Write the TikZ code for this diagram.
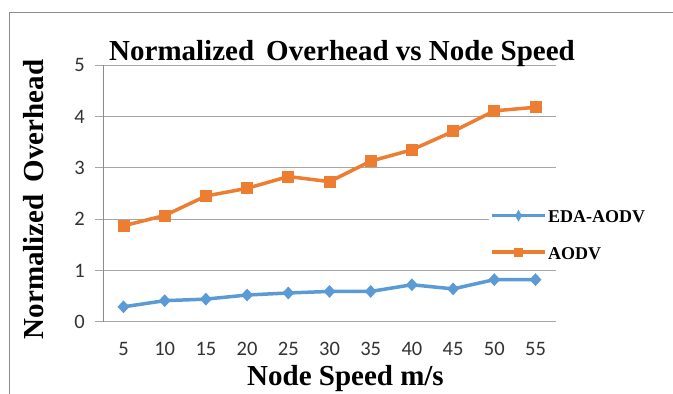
\documentclass[tikz,border=0pt]{standalone}
\usepackage{fontspec}
\setmainfont{Liberation Serif}
\newfontfamily\calibri{Carlito}
\usetikzlibrary{shapes.geometric}
\definecolor{aodvc}{HTML}{ED7D31}
\definecolor{edac}{HTML}{5B9BD5}
\definecolor{gridc}{HTML}{A6A6A6}
\definecolor{axisc}{HTML}{8C8C8C}
\begin{document}
\begin{tikzpicture}[x=1pt,y=-1pt,
  gridline/.style={draw=gridc, line width=1pt},
  axisline/.style={draw=axisc, line width=1pt},
  ticklabel/.style={font=\calibri\fontsize{20.5}{22}\selectfont, text=black!80, inner sep=0pt},
  titletext/.style={font=\fontsize{29}{31}\selectfont\bfseries, inner sep=0pt},
  legendtext/.style={font=\fontsize{18}{20}\selectfont\bfseries, inner sep=0pt, anchor=base west},
  aodvline/.style={draw=aodvc, line width=3.5pt, line join=round, line cap=round},
  edaline/.style={draw=edac, line width=3.5pt, line join=round, line cap=round},
  sqmark/.style={rectangle, fill=aodvc, inner sep=0pt, minimum size=12pt},
  dmmark/.style={diamond, fill=edac, inner sep=0pt, minimum width=12pt, minimum height=13pt},
]
\useasboundingbox (0,0) rectangle (673,394);
\fill[white] (0,0) rectangle (673,394);
% outer frame
\draw[axisline] (9.5,394) -- (9.5,12) -- (673,12);
% gridlines and y labels
\foreach \v in {0,...,5}{
  \draw[gridline] (95,{321.7-51.3*\v}) -- (556,{321.7-51.3*\v});
  \node[ticklabel, anchor=east] (yl\v) at (85,{321.7-51.3*\v}) {\v};
}
\draw[axisline] (103,65.2) -- (103,321.7);
% x labels
\foreach \i [evaluate=\i as \s using int(5*\i+5)] in {0,...,10}{
  \node[ticklabel] (xl\i) at ({123.5+41.2*\i},349) {\s};
}
% titles
\node[titletext, anchor=base] (title) at (342,60) {Normalized\, Overhead vs Node Speed};
\node[titletext, anchor=base, rotate=90] (ytitle) at (43,199.5) {Normalized\, Overhead};
\node[titletext, anchor=base] (xtitle) at (345.5,385.5) {Node Speed m/s};
% data coordinates
\foreach \v [count=\i from 0] in {1.87,2.07,2.45,2.60,2.83,2.73,3.13,3.35,3.71,4.11,4.18}{
  \coordinate (a\i) at ({123.5+41.2*\i},{321.7-51.3*\v});
}
\foreach \v [count=\i from 0] in {0.29,0.41,0.44,0.52,0.56,0.59,0.59,0.72,0.64,0.82,0.82}{
  \coordinate (e\i) at ({123.5+41.2*\i},{321.7-51.3*\v});
}
\draw[aodvline] (a0) \foreach \i in {1,...,10}{ -- (a\i)};
\draw[edaline] (e0) \foreach \i in {1,...,10}{ -- (e\i)};
\foreach \i in {0,...,10}{
  \node[sqmark] (am\i) at (a\i) {};
  \node[dmmark] (em\i) at (e\i) {};
}
% legend
\fill[white] (489,198) rectangle (662,266);
\coordinate (l1a) at (492,215.7);
\coordinate (l1b) at (545,215.7);
\coordinate (l2a) at (492,252);
\coordinate (l2b) at (545,252);
\draw[edaline, line cap=butt] (l1a) -- (l1b);
\node[diamond, fill=edac, inner sep=0pt, minimum width=7pt, minimum height=12pt] (lm1) at (518.5,215.7) {};
\draw[aodvline, line cap=butt] (l2a) -- (l2b);
\node[rectangle, fill=aodvc, inner sep=0pt, minimum size=9pt] (lm2) at (518.5,252) {};
\node[legendtext] (lt1) at (548,222.3) {EDA-AODV};
\node[legendtext] (lt2) at (548,259) {AODV};
\end{tikzpicture}
\end{document}
